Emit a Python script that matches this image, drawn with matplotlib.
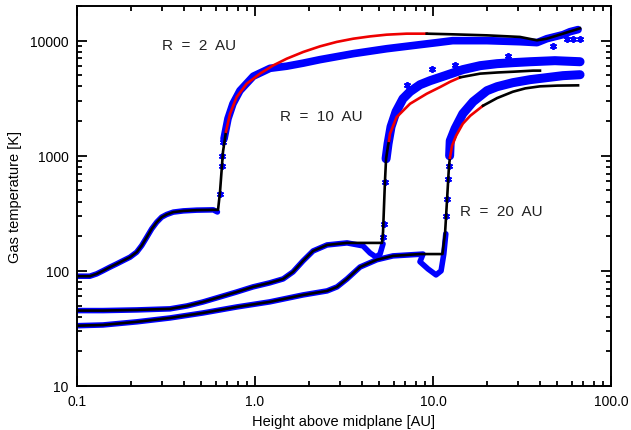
import matplotlib.pyplot as plt
from matplotlib.ticker import LogLocator, NullFormatter

plt.rcParams['font.family'] = ['Liberation Sans', 'DejaVu Sans']

# ---- R = 2 AU ----
# model: black below the jump, red fit, black again at large heights
r2_low_z = [0.100, 0.118, 0.129, 0.1405, 0.153, 0.167, 0.182, 0.1985, 0.2164, 0.231, 0.2465,
            0.263, 0.2805, 0.299, 0.319, 0.3475, 0.3956, 0.4705, 0.583, 0.620, 0.636, 0.661, 0.687]
r2_low_T = [89.9, 89.9, 94.2, 100.6, 107.7, 115, 123, 131.5, 145.4, 166, 196,
            232, 265, 293, 309, 324, 332, 337, 339, 339, 486, 1084, 1618]
r2_fit_z = [0.687, 0.724, 0.789, 0.898, 1.067, 1.267, 1.507, 1.868, 2.317, 2.877, 3.565,
            4.43, 5.49, 7.11, 9.22]
r2_fit_T = [1618, 2318, 3236, 4227, 5170, 6100, 6970, 7980, 8920, 9750, 10400,
            10890, 11270, 11500, 11500]
r2_high_z = [9.22, 12.9, 20.1, 30.8, 38.4, 43.6, 67.0]
r2_high_T = [11500, 11350, 11120, 10770, 10070, 10400, 12800]
# simulation points
r2_obs_low_z = [0.100, 0.118, 0.129, 0.1405, 0.153, 0.167, 0.182, 0.1985, 0.2164, 0.231, 0.2465,
                0.263, 0.2805, 0.299, 0.319, 0.3475, 0.3956, 0.4705, 0.583, 0.615]
r2_obs_low_T = [89.9, 89.9, 94.2, 100.6, 107.7, 115, 123, 131.5, 145.4, 166, 196,
                232, 265, 293, 309, 324, 332, 337, 339, 325]
r2_obs_jump_z = [0.636, 0.653, 0.653, 0.661]
r2_obs_jump_T = [468, 818, 1000, 1325]
r2_obs_high_z = [0.670, 0.705, 0.752, 0.823, 0.978, 1.214, 1.507, 1.868, 2.317, 3.565, 5.49,
                 8.45, 10.5, 12.9, 20.1, 30.8, 38.4, 43.6, 53.7, 58.8, 65.3]
r2_obs_high_T = [1406, 2100, 2830, 3677, 4910, 5750, 6000, 6380, 6840, 7710, 8510,
                 9230, 9610, 10000, 10000, 9790, 9610, 10400, 11270, 11960, 12470]

# ---- R = 10 AU ----
r10_low_z = [0.100, 0.140, 0.217, 0.333, 0.415, 0.510, 0.636, 0.790, 0.974, 1.21, 1.44,
             1.635, 1.86, 2.12, 2.54, 3.29, 4.15, 5.17, 5.24, 5.37, 5.45, 5.59, 5.66]
r10_low_T = [45.2, 45.2, 45.8, 46.8, 49.6, 53.7, 59.4, 65.6, 72.6, 78.7, 85.2,
             98, 122, 149, 168, 175, 175, 175, 218, 594, 942, 1222, 1349]
r10_fit_z = [5.66, 5.73, 6.25, 7.43, 9.22, 10.95, 12.5, 14.2]
r10_fit_T = [1349, 1553, 2168, 2830, 3459, 3950, 4400, 4800]
r10_high_z = [14.2, 18.4, 23.0, 28.1, 36.5, 39.9]
r10_high_T = [4800, 5170, 5290, 5370, 5490, 5490]
r10_obs_low_z = [0.100, 0.140, 0.217, 0.333, 0.415, 0.510, 0.636, 0.790, 0.974, 1.21, 1.44,
                 1.635, 1.86, 2.12, 2.54, 3.29, 4.04, 4.43, 4.78, 5.04, 5.24]
r10_obs_low_T = [45.2, 45.2, 45.8, 46.8, 49.6, 53.7, 59.4, 65.6, 72.6, 78.7, 85.2,
                 98, 122, 149, 168, 175, 165, 143, 132, 140, 172]
r10_obs_jump_z = [5.24, 5.31, 5.37]
r10_obs_jump_T = [198, 256, 594]
r10_obs_high_z = [5.45, 5.59, 5.81, 6.20, 6.78, 7.43, 8.45, 9.62, 11.7, 14.7, 18.4,
                  22.9, 28.1, 35.1, 48.4, 67.0]
r10_obs_high_T = [942, 1271, 1786, 2414, 3130, 3606, 4140, 4487, 4965, 5600, 6064,
                  6310, 6440, 6560, 6700, 6560]

# ---- R = 20 AU ----
r20_low_z = [0.100, 0.140, 0.217, 0.333, 0.510, 0.790, 1.21, 1.86, 2.54, 2.89, 3.29,
             3.89, 4.84, 5.96, 8.45, 11.3, 11.7, 12.0, 12.3, 12.45]
r20_low_T = [33.4, 33.9, 36.1, 39.0, 43.1, 48.6, 53.8, 61.8, 67.0, 72.6, 85.2,
             108, 125, 135, 140, 140, 218, 422, 818, 961]
r20_fit_z = [12.45, 12.8, 13.5, 14.7, 16.2, 19.1]
r20_fit_T = [961, 1222, 1500, 1897, 2228, 2722]
r20_high_z = [19.1, 22.9, 28.1, 33.0, 39.9, 50.0, 65.3]
r20_high_T = [2722, 3170, 3600, 3850, 4010, 4070, 4090]
r20_obs_low_z = [0.100, 0.140, 0.217, 0.333, 0.510, 0.790, 1.21, 1.86, 2.54, 2.89, 3.29,
                 3.89, 4.84, 5.96, 8.79, 8.45, 9.37, 10.4, 11.1, 11.5, 11.8]
r20_obs_low_T = [33.4, 33.9, 36.1, 39.0, 43.1, 48.6, 53.8, 61.8, 67.0, 72.6, 85.2,
                 108, 125, 135, 140, 120, 104, 92.3, 100, 140, 210]
r20_obs_jump_z = [11.9, 12.0, 12.1, 12.3]
r20_obs_jump_T = [301, 422, 631, 818]
r20_obs_high_z = [12.4, 12.5, 13.3, 14.7, 16.8, 20.1, 22.9, 28.1, 35.1, 53.7, 67.0]
r20_obs_high_T = [1000, 1349, 1718, 2318, 2950, 3677, 3980, 4315, 4583, 4965, 5060]

# scattered simulation points off the main bands
stray_z = [7.15, 9.87, 13.3, 26.4, 47.2, 56.6, 61.2, 67.0]
stray_T = [4140, 5710, 6180, 7410, 9050, 10400, 10400, 10400]

labels = ['R  =  2  AU', 'R  =  10  AU', 'R  =  20  AU']
label_z = [0.30, 1.38, 14.2]
label_T = [9230, 2228, 332]

fig = plt.figure(figsize=(6.31, 4.31), dpi=100)
ax = fig.add_axes([77 / 631, 1 - 387 / 431, 534 / 631, 380 / 431])

blue = '#0000ff'
ast = (6, 2, 0)
obs = [
    (r2_obs_low_z, r2_obs_low_T, r2_obs_jump_z, r2_obs_jump_T, r2_obs_high_z, r2_obs_high_T, 5.5),
    (r10_obs_low_z, r10_obs_low_T, r10_obs_jump_z, r10_obs_jump_T, r10_obs_high_z, r10_obs_high_T, 6.5),
    (r20_obs_low_z, r20_obs_low_T, r20_obs_jump_z, r20_obs_jump_T, r20_obs_high_z, r20_obs_high_T, 6.5),
]
for zl, Tl, zj, Tj, zh, Th, w in obs:
    ax.plot(zl, Tl, color=blue, lw=4, solid_capstyle='round', solid_joinstyle='round', zorder=1)
    ax.plot(zj, Tj, ls='none', marker=ast, ms=5, mew=1.3, color=blue, zorder=1)
    ax.plot(zh, Th, color=blue, lw=w, solid_capstyle='round', solid_joinstyle='round', zorder=1)
ax.plot(stray_z, stray_T, ls='none', marker=ast, ms=5, mew=1.3, color=blue, zorder=1)

models = [
    (r2_low_z, r2_low_T, r2_fit_z, r2_fit_T, r2_high_z, r2_high_T),
    (r10_low_z, r10_low_T, r10_fit_z, r10_fit_T, r10_high_z, r10_high_T),
    (r20_low_z, r20_low_T, r20_fit_z, r20_fit_T, r20_high_z, r20_high_T),
]
for zl, Tl, zf, Tf, zh, Th in models:
    ax.plot(zl, Tl, color='black', lw=1.9, solid_joinstyle='round', zorder=3)
    ax.plot(zf, Tf, color='#ee0000', lw=1.9, solid_joinstyle='round', zorder=3)
    ax.plot(zh, Th, color='black', lw=1.9, solid_joinstyle='round', zorder=3)

for txt, z, T in zip(labels, label_z, label_T):
    ax.text(z, T, txt, ha='left', va='center', fontsize=11, color='#222222')

ax.set_xscale('log')
ax.set_yscale('log')
ax.set_xlim(0.1, 100)
ax.set_ylim(10, 20000)
ax.set_xticks([0.1, 1, 10, 100], ['0.1', '1.0', '10.0', '100.0'])
ax.set_yticks([10, 100, 1000, 10000], ['10', '100', '1000', '10000'])
ax.xaxis.set_minor_locator(LogLocator(base=10, subs=range(2, 10)))
ax.yaxis.set_minor_locator(LogLocator(base=10, subs=range(2, 10)))
ax.xaxis.set_minor_formatter(NullFormatter())
ax.yaxis.set_minor_formatter(NullFormatter())
ax.tick_params(which='both', direction='in', top=True, right=True, width=1.3, labelsize=10)
ax.tick_params(which='major', length=7.5, pad=6)
ax.tick_params(which='minor', length=3.8)
for s in ax.spines.values():
    s.set_linewidth(1.4)

ax.set_xlabel('Height above midplane [AU]', fontsize=10.5, labelpad=4)
ax.set_ylabel('Gas temperature [K]', fontsize=10.5, labelpad=6)

fig.savefig('out.png', dpi=100)
